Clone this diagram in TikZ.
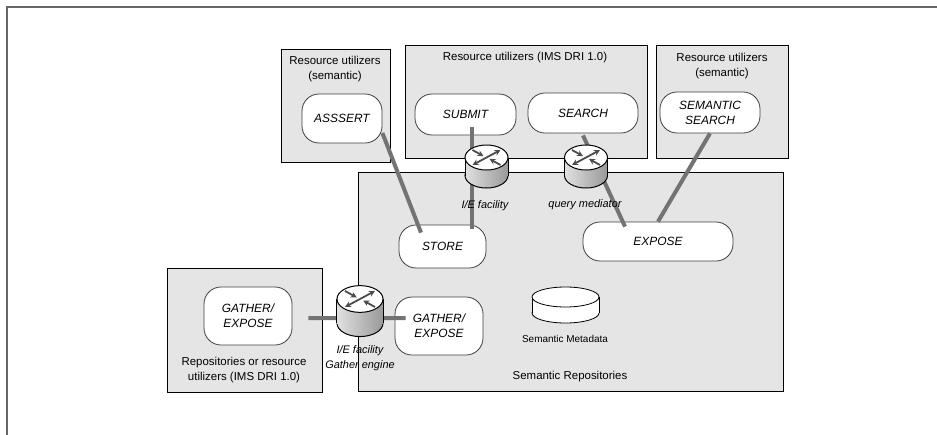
\documentclass[tikz,border=0pt]{standalone}
\usepackage{fontspec}
\setmainfont{Liberation Sans}
\usetikzlibrary{calc}
\usetikzlibrary{arrows.meta}
\usetikzlibrary{positioning}
\colorlet{BoxGray}{black!10}
\colorlet{LinkGray}{black!55}
\colorlet{FrameGray}{black!60}

\tikzset{
  box/.style={draw=black, line width=0.9bp, fill=BoxGray, inner sep=0pt},
  service/.style={draw=black!75, line width=0.8bp, fill=white, rounded corners=17bp,
    inner sep=0pt, align=center, font=\fontsize{12}{15}\selectfont\itshape},
  boxtitle/.style={align=center, font=\fontsize{11.5}{15}\selectfont},
  caption/.style={align=center, font=\fontsize{11}{15}\selectfont\itshape},
  link/.style={line width=4bp, LinkGray},
  rarrow/.style={draw=black!70, line width=1.8bp, -{Stealth[length=6bp,width=6bp]}},
}

% router: centre of the top, scale, height of the side
\newcommand{\drawRouter}[3]{%
  \begin{scope}[shift={#1}, scale=#2]
    \shadedraw[left color=black!12, middle color=white, right color=black!40, line width=1bp]
      (0,#3) ellipse (21.5bp and 12.5bp);
    \shade[left color=black!12, middle color=white, right color=black!40]
      (-2.15,0) rectangle (2.15,#3);
    \draw[line width=1bp] (-2.15,0) -- (-2.15,#3) (2.15,0) -- (2.15,#3);
    \draw[fill=white, line width=1bp] (0,0) ellipse (21.5bp and 12.5bp);
    \foreach \s in {1,-1} {
      \draw[rarrow] (0,0) -- (1.4*\s,-0.75*\s);
      \draw[rarrow] (-1.4*\s,-0.75*\s) -- (-0.3*\s,-0.14*\s);
    }
  \end{scope}}

\begin{document}
\begin{tikzpicture}[x=10bp, y=-10bp]

\useasboundingbox (0,0) rectangle (93.7,43.5);

% frame
\draw[FrameGray, line width=1.5bp] (0.7,43.5) -- (0.7,0.7) -- (93.7,0.7);

% the grey boxes
\node[box, minimum width=109bp, minimum height=113bp] (assertbox) at (33.55,10.55) {};
\node[box, minimum width=242bp, minimum height=113bp] (imsbox)    at (52.6,10.15) {};
\node[box, minimum width=132bp, minimum height=113bp] (semsbox)   at (72.2,10.15) {};
\node[box, minimum width=425bp, minimum height=219bp] (repobox)   at (57.05,28.15) {};
\node[box, minimum width=155bp, minimum height=124bp] (leftbox)   at (24.45,33) {};

\node[boxtitle] (assertttl) at (33.5,6.95) {Resource utilizers\\(semantic)};
\node[boxtitle] (imsttl)    at (52.5,5.8)  {Resource utilizers (IMS DRI 1.0)};
\node[boxtitle] (semsttl)   at (72.2,6.6)  {Resource utilizers\\(semantic)};
\node[boxtitle] (leftttl)   at (24.4,37.0) {Repositories or resource\\utilizers (IMS DRI 1.0)};
\node[boxtitle] (repottl)   at (57.0,37.7) {Semantic Repositories};

% services
\node[service, minimum width=80bp,  minimum height=49bp] (assert)    at (34.2,11.85)  {ASSSERT};
\node[service, minimum width=101bp, minimum height=41bp] (submit)    at (46.55,11.45) {SUBMIT};
\node[service, minimum width=110bp, minimum height=40bp] (search)    at (58.3,11.3)   {SEARCH};
\node[service, minimum width=100bp, minimum height=41bp] (semsearch) at (71.0,11.25)  {SEMANTIC\\SEARCH};
\node[service, minimum width=87bp,  minimum height=43bp] (store)     at (44.25,24.65) {STORE};
\node[service, minimum width=150bp, minimum height=39bp] (expose)    at (65.8,24.15)  {EXPOSE};
\node[service, minimum width=88bp,  minimum height=58bp] (gatherL)   at (24.8,31.6)   {GATHER/\\EXPOSE};
\node[service, minimum width=88bp,  minimum height=58bp] (gatherR)   at (43.9,32.6)   {GATHER/\\EXPOSE};

% links
\draw[link] ($(assert.east)+(0,1.45)$) -- ($(store.north)+(-2.15,0.8)$);
\draw[link] ($(submit.south)+(0.65,-0.8)$) -- ($(store.north)+(2.95,0.4)$);
\draw[link] ($(search.south)+(0,0.2)$) -- ($(expose.north)+(-3.3,0.5)$);
\draw[link] (semsearch.south) -- (expose.north);
\draw[link] ($(gatherL.east)+(1.6,0.2)$) -- ($(gatherR.west)+(1.1,-0.8)$);

% routers
\drawRouter{(48.65,15.75)}{1}{1.8}
\drawRouter{(58.6,15.75)}{1}{1.8}
\drawRouter{(36.0,29.9)}{1.07}{2.26}

\node[caption] (iecap)     at (48.5,20.6) {I/E facility};
\node[caption] (qmcap)     at (58.5,20.5) {query mediator};
\node[caption] (gathercap) at (36.0,35.8) {I/E facility\\Gather engine};

% semantic metadata store
\def\dbX {56.55}
\draw[fill=white, line width=0.8bp] (\dbX,31.3) ellipse (33.5bp and 10bp);
\fill[white] (\dbX-3.35,29.7) rectangle (\dbX+3.35,31.3);
\draw[line width=0.8bp] (\dbX-3.35,29.7) -- (\dbX-3.35,31.3) (\dbX+3.35,29.7) -- (\dbX+3.35,31.3);
\draw[fill=white, line width=0.8bp] (\dbX,29.7) ellipse (33.5bp and 10bp);
\node[font=\fontsize{10}{12}\selectfont] (metacap) at (56.5,33.9) {Semantic Metadata};

\end{tikzpicture}
\end{document}
